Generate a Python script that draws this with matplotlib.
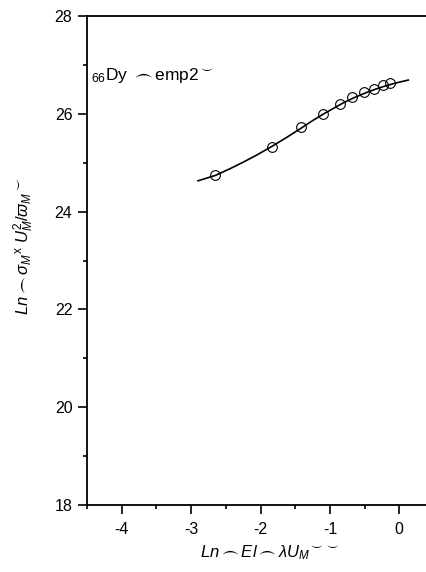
import matplotlib.pyplot as plt
from matplotlib.ticker import MultipleLocator

plt.rcParams["font.family"] = ["Liberation Sans", "DejaVu Sans"]
plt.rcParams["axes.unicode_minus"] = False
plt.rcParams["mathtext.fontset"] = "custom"
plt.rcParams["mathtext.rm"] = "Liberation Sans"
plt.rcParams["mathtext.it"] = "Liberation Sans:italic"
plt.rcParams["mathtext.sf"] = "Liberation Sans"
plt.rcParams["mathtext.fallback"] = "stixsans"

# measured points
x_exp = [-2.65, -1.84, -1.41, -1.10, -0.86, -0.68, -0.51, -0.36, -0.24, -0.14]
y_exp = [24.75, 25.33, 25.72, 26.00, 26.20, 26.34, 26.44, 26.51, 26.59, 26.63]

# fitted curve
x_fit = [-2.90, -2.65, -2.45, -2.25, -2.05, -1.84, -1.62, -1.41, -1.25, -1.10,
         -0.95, -0.80, -0.65, -0.50, -0.35, -0.20, -0.05, 0.13]
y_fit = [24.63, 24.74, 24.87, 25.01, 25.16, 25.33, 25.52, 25.71, 25.86, 25.99,
         26.11, 26.23, 26.33, 26.42, 26.50, 26.57, 26.63, 26.69]

fig = plt.figure(figsize=(4.26, 5.72), dpi=100, facecolor="white")
ax = fig.add_axes([87 / 426, 67 / 572, 347 / 426, 489 / 572])

ax.plot(x_fit, y_fit, color="black", linewidth=1.2)
ax.plot(x_exp, y_exp, linestyle="none", marker="o", markersize=7,
        markerfacecolor="none", markeredgecolor="black", markeredgewidth=0.8)

ax.set_xlim(-4.5, 0.5)
ax.set_ylim(18, 28)
ax.xaxis.set_major_locator(MultipleLocator(1))
ax.xaxis.set_minor_locator(MultipleLocator(0.5))
ax.yaxis.set_major_locator(MultipleLocator(2))
ax.yaxis.set_minor_locator(MultipleLocator(1))

for side in ["left", "bottom", "top"]:
    ax.spines[side].set_linewidth(1.3)
ax.spines["right"].set_visible(False)

ax.tick_params(which="major", direction="out", length=6.5, width=1.2,
               labelsize=11.5, pad=4, top=False, right=False)
ax.tick_params(which="minor", direction="out", length=3.2, width=1.2,
               top=False, right=False)
ax.tick_params(axis="x", which="major", pad=6)

ax.text(-4.44, 26.7, r"$_{66}$Dy $\frown$emp2$^{\smile}$", fontsize=12.5)

fig.text(270 / 426, 1 - 553 / 572,
         r"$Ln\frown El\frown\lambda U_{M}{}^{\smile\smile}$",
         ha="center", va="center", fontsize=12)
fig.text(24 / 426, 1 - 246 / 572,
         r"$Ln\frown\sigma_{M}{}^{\mathrm{x}}\ U_{M}^{2}/\varpi_{M}{}^{\smile}$",
         ha="center", va="center", rotation=90, fontsize=12)

fig.savefig("out.png", dpi=100)
